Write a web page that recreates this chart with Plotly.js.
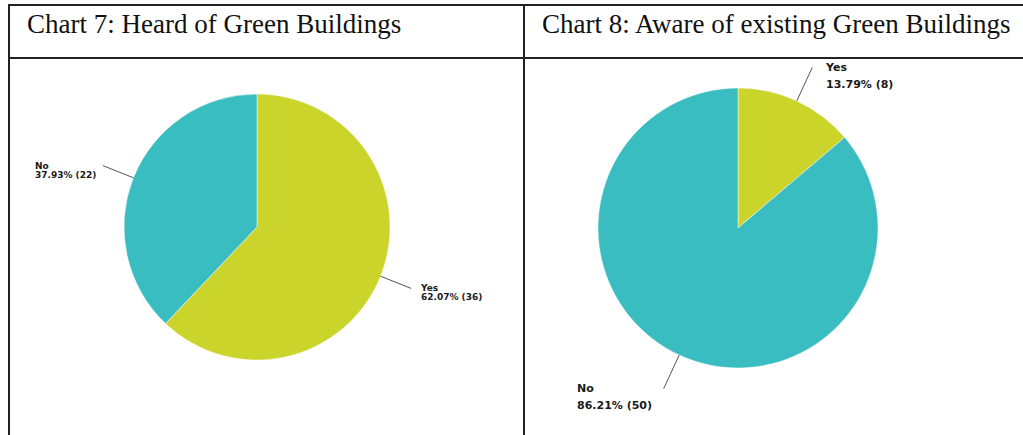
<!DOCTYPE html>
<html><head><meta charset="utf-8">
<script src="https://cdn.plot.ly/plotly-3.0.1.min.js"></script>
<style>html,body{margin:0;padding:0;background:#fff;overflow:hidden}#chart{width:1023px;height:435px;}</style>
</head><body><div id="chart"></div>
<script>
const chartTitles = ['Chart 7: Heard of Green Buildings', 'Chart 8: Aware of existing Green Buildings'];
const sliceLabels = ['Yes', 'No'];
const chart7Values = [36, 22];
const chart8Values = [8, 50];
const sliceColors = ['#cad42a', '#3abdc1'];

const W = 1023, H = 435;
const px = x => x / W, py = y => 1 - y / H;

const pies = [
  {values: chart7Values, cx: 257, cy: 227, r: 133, ext: 33, font: 9, gap: 9, titleX: 25, padL: 5, padR: 7},
  {values: chart8Values, cx: 738, cy: 228, r: 140, ext: 37, font: 11, gap: 17, titleX: 540, padL: 10, padR: 11}
];

const data = [], annotations = [], shapes = [];
const lineStyle = {color: '#222', width: 2};
// table frame
shapes.push({type: 'line', xref: 'paper', yref: 'paper', x0: px(8), x1: 1, y0: py(5), y1: py(5), line: lineStyle});
shapes.push({type: 'line', xref: 'paper', yref: 'paper', x0: px(8), x1: 1, y0: py(58), y1: py(58), line: lineStyle});
shapes.push({type: 'line', xref: 'paper', yref: 'paper', x0: px(9), x1: px(9), y0: py(5), y1: 0, line: lineStyle});
shapes.push({type: 'line', xref: 'paper', yref: 'paper', x0: px(524), x1: px(524), y0: py(5), y1: 0, line: lineStyle});

pies.forEach((p, i) => {
  data.push({
    type: 'pie', values: p.values, labels: sliceLabels, sort: false,
    direction: 'clockwise', rotation: 0, textinfo: 'none', hoverinfo: 'label+percent',
    marker: {colors: sliceColors, line: {color: 'rgba(255,255,255,0.6)', width: 0.8}},
    domain: {x: [px(p.cx - p.r), px(p.cx + p.r)], y: [py(p.cy + p.r), py(p.cy - p.r)]},
    showlegend: false
  });
  annotations.push({
    xref: 'paper', yref: 'paper', x: px(p.titleX), y: py(24), xanchor: 'left', yanchor: 'middle',
    text: chartTitles[i], showarrow: false,
    font: {family: 'Liberation Serif, Times New Roman, serif', size: 27, color: '#111'}
  });
  const total = p.values.reduce((a, b) => a + b, 0);
  let cum = 0;
  p.values.forEach((v, j) => {
    const mid = (cum + v / 2) / total * 2 * Math.PI;
    cum += v;
    const sx = Math.sin(mid), sy = -Math.cos(mid);
    const ix = p.cx + p.r * sx, iy = p.cy + p.r * sy;
    const ox = p.cx + (p.r + p.ext) * sx, oy = p.cy + (p.r + p.ext) * sy;
    shapes.push({type: 'line', xref: 'paper', yref: 'paper', x0: px(ix), y0: py(iy), x1: px(ox), y1: py(oy),
      line: {color: '#555', width: 1}});
    const pct = (v / total * 100).toFixed(2);
    const left = ox < p.cx;
    const span = t => `<span style="font-size:${p.font}px">${t}</span>`;
    annotations.push({
      xref: 'paper', yref: 'paper',
      x: px(left ? ox - p.padL : ox + p.padR), y: py(oy + p.gap / 2),
      xanchor: left ? 'right' : 'left', yanchor: 'middle', align: 'left',
      text: span(sliceLabels[j]) + '<br>' + span(pct + '% (' + v + ')'),
      showarrow: false,
      font: {family: 'DejaVu Sans, sans-serif', size: p.gap / 1.3, color: '#1a1a1a', weight: 'bold'}
    });
  });
});

Plotly.newPlot('chart', data, {
  width: W, height: H, margin: {l: 0, r: 0, t: 0, b: 0},
  paper_bgcolor: '#fff', plot_bgcolor: '#fff',
  annotations: annotations, shapes: shapes
}, {displayModeBar: false, staticPlot: true});
</script>
</body></html>
